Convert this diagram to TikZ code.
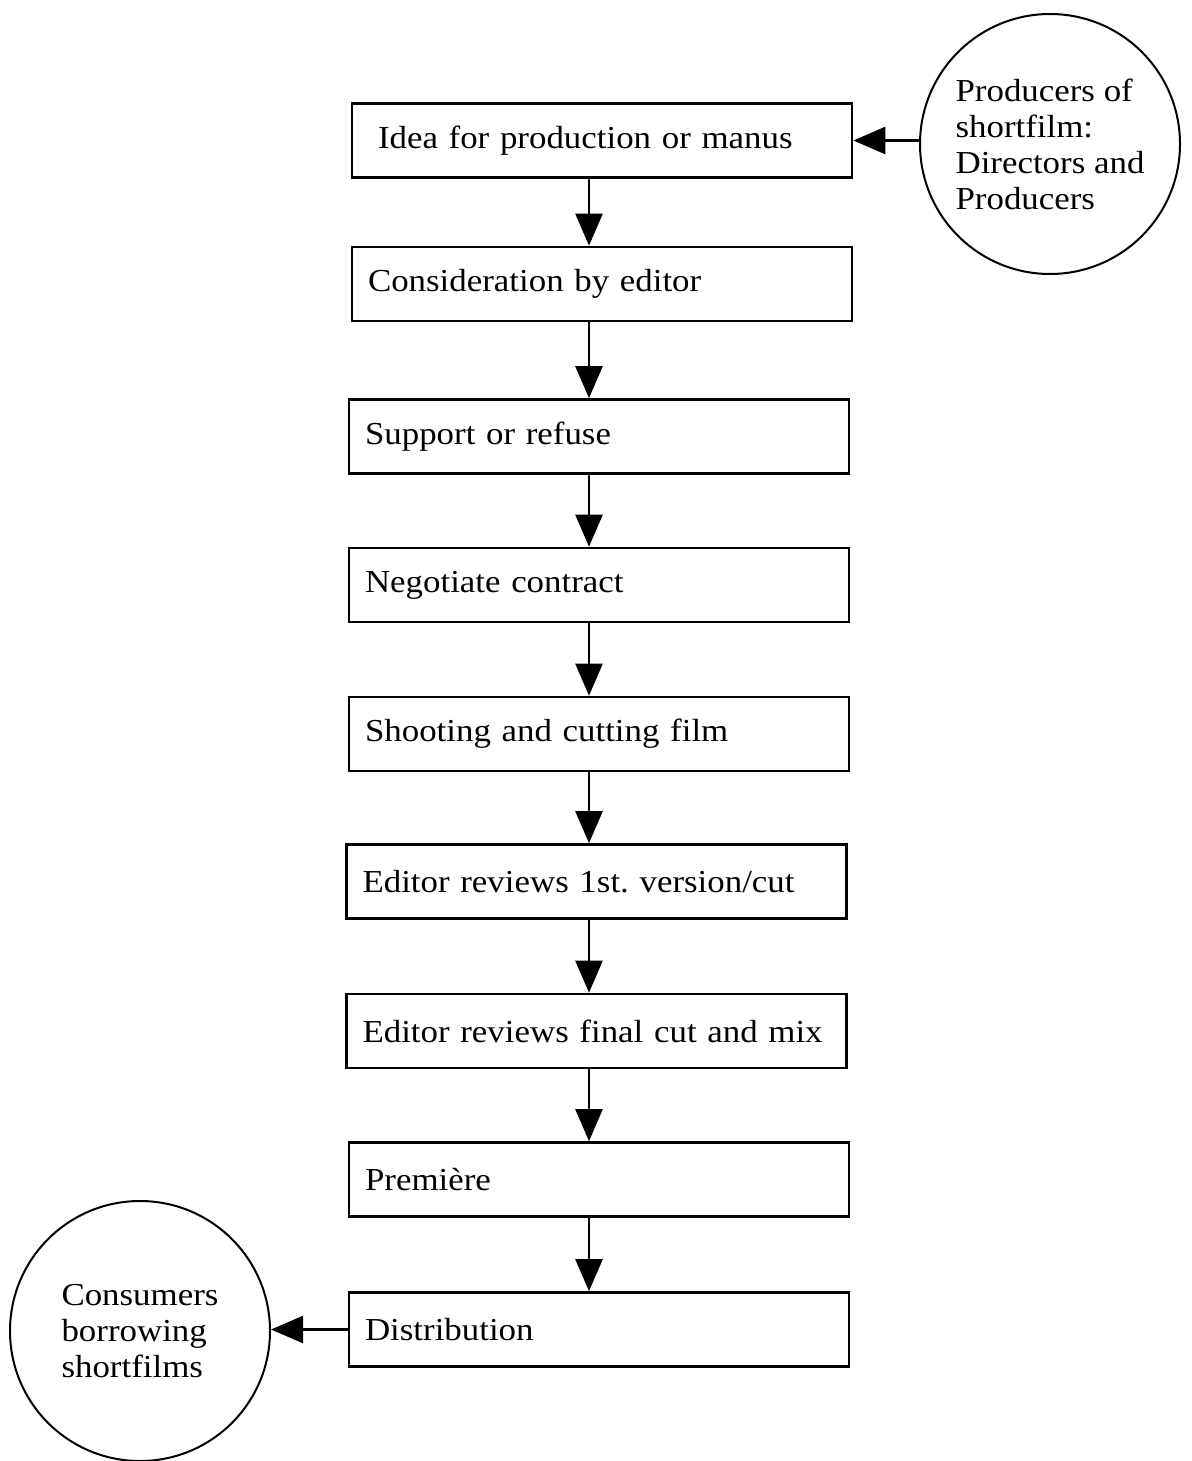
\documentclass[tikz,border=0pt]{standalone}
\usepackage{fontspec}
\setmainfont{Liberation Serif}[FakeStretch=1.09]
\usepackage{tikz}
\usetikzlibrary{shapes.geometric, arrows.meta}
\tikzstyle{box} = [draw, line width=1.3pt, rectangle, minimum height=37pt, text width=234pt, inner xsep=8pt, align=left, font=\fontsize{16}{18}\selectfont]
\tikzstyle{bubble} = [draw, line width=1pt, circle, minimum size=130pt, inner sep=0pt, align=left, font=\fontsize{16}{18}\selectfont]
\tikzstyle{arrow} = [line width=1.2pt, -{Triangle[length=16pt,width=13.5pt]}]
\frenchspacing

\begin{document}
\begin{tikzpicture}[line join=miter,x=0.5pt,y=-0.5pt]
                \useasboundingbox (0,0) rectangle (1191,1461);
                \node[box] (idea) at (602,140.5) {\hspace*{5pt}Idea for production or manus};
                \node[box] (consider) at (602,284) {Consideration by editor};
                \node[box] (support) at (599,436.5) {Support or refuse};
                \node[box] (negotiate) at (599,585) {Negotiate contract};
                \node[box] (shooting) at (599,734) {Shooting and cutting film};
                \node[box] (firstcut) at (596.5,881.5) {Editor reviews 1st. version/cut};
                \node[box] (finalcut) at (596.5,1031) {Editor reviews final cut and mix};
                \node[box] (premiere) at (599,1179.5) {Première};
                \node[box] (distribution) at (599,1329.5) {Distribution};
                \node[bubble] (producers) at (1050,144) {Producers of\\shortfilm:\\Directors and\\Producers};
                \node[bubble] (consumers) at (140,1331) {Consumers\\borrowing\\shortfilms};
                \coordinate (spine) at (589,0);
                \draw[arrow] (idea.south -| spine) -- (consider.north -| spine);
                \draw[arrow] (consider.south -| spine) -- (support.north -| spine);
                \draw[arrow] (support.south -| spine) -- (negotiate.north -| spine);
                \draw[arrow] (negotiate.south -| spine) -- (shooting.north -| spine);
                \draw[arrow] (shooting.south -| spine) -- (firstcut.north -| spine);
                \draw[arrow] (firstcut.south -| spine) -- (finalcut.north -| spine);
                \draw[arrow] (finalcut.south -| spine) -- (premiere.north -| spine);
                \draw[arrow] (premiere.south -| spine) -- (distribution.north -| spine);
                \draw[arrow] (producers.west |- idea.east) -- (idea.east);
                \draw[arrow] (distribution.west) -- (consumers.east |- distribution.west);
            \end{tikzpicture}
\end{document}
